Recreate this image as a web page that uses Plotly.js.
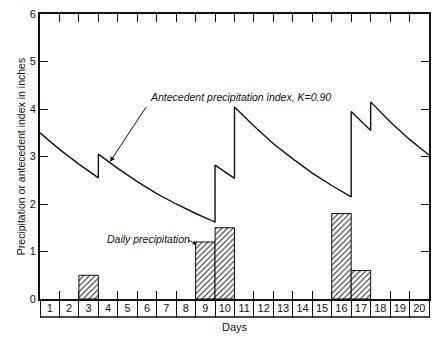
<!DOCTYPE html>
<html><head><meta charset="utf-8">
<script src="https://cdn.plot.ly/plotly-3.0.1.min.js"></script>
<style>html,body{margin:0;padding:0;background:#fff}#chart{width:435px;height:337px}</style>
</head><body><div id="chart"></div>
<script>
// Daily precipitation (inches), by day number
const rainDays = [3, 9, 10, 16, 17];
const rainInches = [0.5, 1.2, 1.5, 1.8, 0.6];

// Antecedent precipitation index (K = 0.90), read at day boundaries (jumps repeated)
const apiDay = [0, 1, 2, 3, 3, 4, 5, 6, 7, 8, 9, 9, 10, 10, 11, 12, 13, 14, 15, 16, 16, 17, 17, 18, 19, 20];
const apiValue = [3.5, 3.15, 2.84, 2.55, 3.05, 2.75, 2.47, 2.22, 2.0, 1.8, 1.62, 2.82, 2.54, 4.04, 3.64, 3.27, 2.95, 2.65, 2.39, 2.15, 3.95, 3.55, 4.15, 3.73, 3.36, 3.03];

// Axis labels
const dayNumbers = [1,2,3,4,5,6,7,8,9,10,11,12,13,14,15,16,17,18,19,20];
const dayLabels = dayNumbers.map(String);
const dayBoundaries = [0,1,2,3,4,5,6,7,8,9,10,11,12,13,14,15,16,17,18,19,20];
const innerBoundaries = dayBoundaries.slice(1, -1);
const yTicks = [0,1,2,3,4,5,6];

const FONT = 'Liberation Sans, Arial, sans-serif';

const traces = [
  {
    type: 'bar', x: rainDays, y: rainInches, width: 1, offset: -1,
    marker: { color: '#fff', line: { color: '#111', width: 1 },
      pattern: { shape: '/', fgcolor: '#222', bgcolor: '#fff', size: 4, solidity: 0.25 } },
    xaxis: 'x', yaxis: 'y', hoverinfo: 'skip'
  },
  {
    type: 'scatter', mode: 'lines', x: apiDay, y: apiValue,
    line: { color: '#111', width: 1.4 }, xaxis: 'x', yaxis: 'y'
  },
  // empty traces so the overlaying day-divider and day-label axes are drawn
  { type: 'scatter', mode: 'markers', x: [null], y: [null], xaxis: 'x2', yaxis: 'y', hoverinfo: 'skip' },
  { type: 'scatter', mode: 'markers', x: [null], y: [null], xaxis: 'x3', yaxis: 'y', hoverinfo: 'skip' }
];

const layout = {
  width: 435, height: 337,
  margin: { l: 40, r: 6, t: 14, b: 38 },
  paper_bgcolor: '#fff', plot_bgcolor: '#fff',
  showlegend: false, bargap: 0,
  font: { family: FONT, color: '#111', size: 11 },
  xaxis: {
    range: [0, 20], tickmode: 'array', tickvals: innerBoundaries,
    ticks: 'inside', ticklen: 8, tickwidth: 1, tickcolor: '#111',
    showticklabels: false, showline: true, linecolor: '#111', linewidth: 2,
    mirror: 'ticks', layer: 'below traces', showgrid: false, zeroline: false, fixedrange: true
  },
  xaxis2: {
    overlaying: 'x', anchor: 'y', side: 'bottom', range: [0, 20],
    tickmode: 'array', tickvals: dayBoundaries, ticks: 'outside', ticklen: 18,
    tickwidth: 1, tickcolor: '#111', showticklabels: false, showline: false,
    showgrid: false, zeroline: false
  },
  xaxis3: {
    overlaying: 'x', anchor: 'y', side: 'bottom', range: [0, 20],
    tickmode: 'array', tickvals: dayNumbers.map(d => d - 0.5), ticktext: dayLabels,
    ticks: '', showline: false, showgrid: false, zeroline: false, ticklabelstandoff: 1,
    tickfont: { size: 11, family: FONT, color: '#111' },
    title: { text: 'Days', font: { size: 11, family: FONT, color: '#111' }, standoff: 10 }
  },
  yaxis: {
    range: [0, 6], tickmode: 'array', tickvals: yTicks,
    ticks: 'inside', ticklen: 8, tickwidth: 1, tickcolor: '#111',
    showline: true, linecolor: '#111', linewidth: 2, mirror: 'ticks',
    showgrid: false, zeroline: false,
    tickfont: { size: 11, family: FONT, color: '#111' },
    title: { text: 'Precipitation or antecedent index in inches', font: { size: 10.5, family: FONT, color: '#111' }, standoff: 2 }
  },
  shapes: [
    { type: 'line', xref: 'x', yref: 'paper', x0: 0, x1: 20, y0: -18/285, y1: -18/285,
      line: { color: '#111', width: 1.3 } }
  ],
  annotations: [
    { x: 5.55, y: 4.25, xref: 'x', yref: 'y', xanchor: 'left', yanchor: 'middle', showarrow: false,
      text: '<i>Antecedent precipitation index, K=0.90</i>', font: { size: 10.5, family: FONT, color: '#111' } },
    { x: 3.6, y: 2.89, xref: 'x', yref: 'y', text: '', showarrow: true, ax: 37, ay: -56,
      arrowhead: 2, arrowsize: 1, arrowwidth: 1, arrowcolor: '#111' },
    { x: 3.35, y: 1.26, xref: 'x', yref: 'y', xanchor: 'left', yanchor: 'middle', showarrow: false,
      text: '<i>Daily precipitation</i>', font: { size: 10.5, family: FONT, color: '#111' } },
    { x: 8.07, y: 1.15, xref: 'x', yref: 'y', text: '', showarrow: true, ax: -10, ay: -5,
      arrowhead: 2, arrowsize: 0.8, arrowwidth: 1, arrowcolor: '#111' }
  ]
};

Plotly.newPlot('chart', traces, layout, { displayModeBar: false, staticPlot: true });
</script>
</body></html>
